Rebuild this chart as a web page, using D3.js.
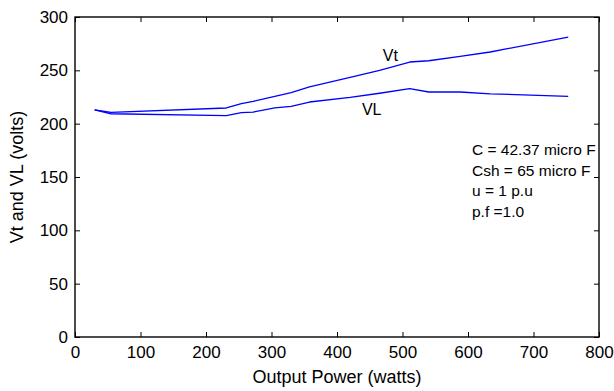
<!DOCTYPE html>
<html>
<head>
<meta charset="utf-8">
<script src="https://cdn.jsdelivr.net/npm/d3@7"></script>
<style>
  html, body { margin: 0; padding: 0; background: #fff; }
  svg { display: block; font-family: "Liberation Sans", Arial, sans-serif; }
</style>
</head>
<body>
<svg id="chart" width="614" height="391"></svg>
<script>
// ---- data ----
const power = [30, 55, 231, 254, 272, 305, 330, 358, 420, 465, 511, 540, 588, 634, 753];
const vt    = [213, 210.5, 214.7, 218.7, 220.9, 225.5, 229, 234.4, 243.5, 250, 257.8, 259, 263, 267.2, 281.2];
const vl    = [213, 209.3, 207.5, 210.3, 210.9, 214.8, 216.2, 220.3, 224.6, 228.5, 232.8, 229.7, 229.7, 228, 225.6];
const xTicks = [0, 100, 200, 300, 400, 500, 600, 700, 800];
const yTicks = [0, 50, 100, 150, 200, 250, 300];
const notes = ["C = 42.37 micro F", "Csh = 65 micro F", "u = 1 p.u", "p.f =1.0"];
const xTitle = "Output Power (watts)";
const yTitle = "Vt and VL (volts)";

// ---- layout ----
const W = 614, H = 391;
const m = { left: 75, right: 15, top: 17, bottom: 54 };
const svg = d3.select("#chart");
const pw = W - m.left - m.right, ph = H - m.top - m.bottom;

const x = d3.scaleLinear().domain([0, 800]).range([m.left, m.left + pw]);
const y = d3.scaleLinear().domain([0, 300]).range([m.top + ph, m.top]);

const tickLen = 5;
const fs = 17;

// axes (bottom/left with labels, top/right ticks only)
const gx = svg.append("g").attr("transform", `translate(0,${m.top + ph})`)
  .call(d3.axisBottom(x).tickValues(xTicks).tickFormat(d3.format("d")).tickSizeInner(-tickLen).tickSizeOuter(0).tickPadding(9));
const gy = svg.append("g").attr("transform", `translate(${m.left},0)`)
  .call(d3.axisLeft(y).tickValues(yTicks).tickFormat(d3.format("d")).tickSizeInner(-tickLen).tickSizeOuter(0).tickPadding(7));
const gxt = svg.append("g").attr("transform", `translate(0,${m.top})`)
  .call(d3.axisTop(x).tickValues(xTicks).tickFormat("").tickSizeInner(-tickLen).tickSizeOuter(0));
const gyr = svg.append("g").attr("transform", `translate(${m.left + pw},0)`)
  .call(d3.axisRight(y).tickValues(yTicks).tickFormat("").tickSizeInner(-tickLen).tickSizeOuter(0));

[gx, gy, gxt, gyr].forEach(g => {
  g.select(".domain").remove();
  g.selectAll(".tick line").attr("stroke", "#000").attr("stroke-width", 1);
  g.selectAll(".tick text").attr("fill", "#000").style("font-size", fs + "px")
    .style("font-family", '"Liberation Sans", Arial, sans-serif');
});

// box
svg.append("rect")
  .attr("x", m.left).attr("y", m.top).attr("width", pw).attr("height", ph)
  .attr("fill", "none").attr("stroke", "#000").attr("stroke-width", 1.4);

// lines
const line = d3.line().x((d, i) => x(power[i])).y(d => y(d));
[vt, vl].forEach(s => {
  svg.append("path").datum(s).attr("d", line)
    .attr("fill", "none").attr("stroke", "#0000ff").attr("stroke-width", 1.3)
    .attr("stroke-linejoin", "round");
});

// series labels
svg.append("text").attr("x", x(470)).attr("y", y(258.4)).text("Vt")
  .style("font-size", "16px").attr("fill", "#000");
svg.append("text").attr("x", x(438)).attr("y", y(208.4)).text("VL")
  .style("font-size", "16px").attr("fill", "#000");

// annotation
svg.append("g").selectAll("text").data(notes).join("text")
  .attr("x", 472).attr("y", (d, i) => 155 + i * 20.7)
  .style("font-size", "15.5px").attr("fill", "#000")
  .text(d => d);

// axis titles
svg.append("text").attr("x", m.left + pw / 2).attr("y", 383)
  .attr("text-anchor", "middle").style("font-size", "18px").attr("fill", "#000")
  .text(xTitle);
svg.append("text")
  .attr("transform", `translate(23,${m.top + ph / 2}) rotate(-90)`)
  .attr("text-anchor", "middle").style("font-size", "18px").attr("fill", "#000")
  .text(yTitle);
</script>
</body>
</html>
